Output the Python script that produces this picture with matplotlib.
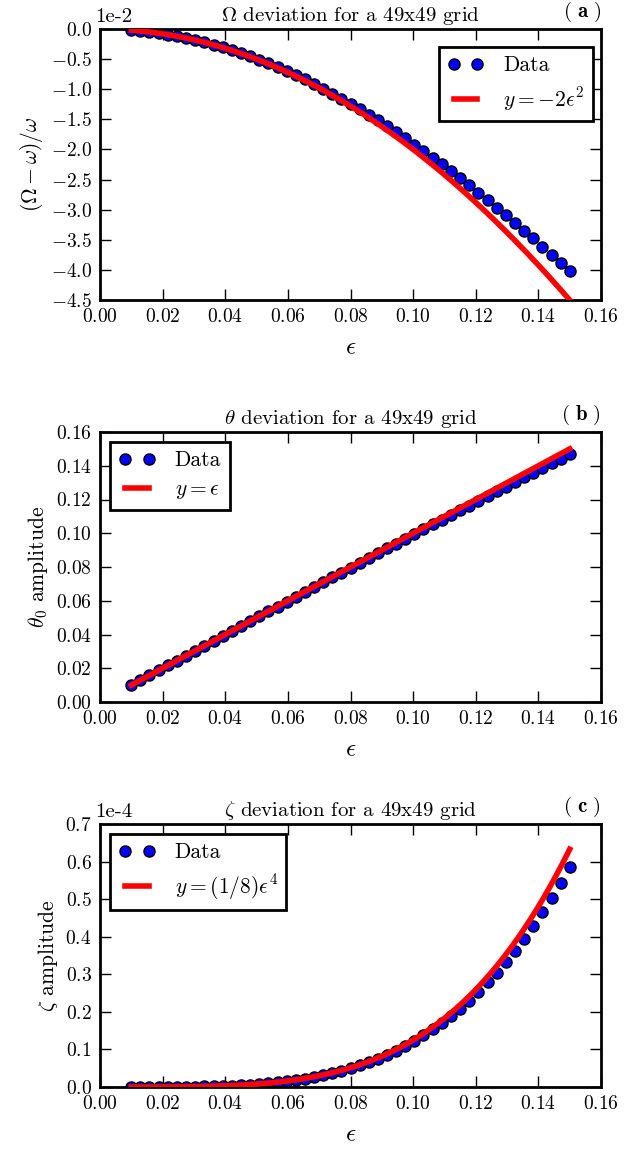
import numpy as np
import matplotlib
matplotlib.use("Agg")
import matplotlib.pyplot as plt
from matplotlib.ticker import FuncFormatter, MultipleLocator

plt.rcParams['font.family'] = ['cmr10', 'DejaVu Serif']
plt.rcParams['mathtext.fontset'] = 'cm'
plt.rcParams['axes.formatter.use_mathtext'] = True

# ---------------- data ----------------
eps = [0.0100, 0.0129, 0.0158, 0.0188, 0.0217, 0.0246, 0.0275, 0.0304, 0.0333,
       0.0363, 0.0392, 0.0421, 0.0450, 0.0479, 0.0508, 0.0538, 0.0567, 0.0596,
       0.0625, 0.0654, 0.0683, 0.0713, 0.0742, 0.0771, 0.0800, 0.0829, 0.0858,
       0.0888, 0.0917, 0.0946, 0.0975, 0.1004, 0.1033, 0.1063, 0.1092, 0.1121,
       0.1150, 0.1179, 0.1208, 0.1238, 0.1267, 0.1296, 0.1325, 0.1354, 0.1383,
       0.1413, 0.1442, 0.1471, 0.1500]

omega_dev = [-0.00020, -0.00033, -0.00050, -0.00071, -0.00094, -0.00121, -0.00151,
             -0.00184, -0.00221, -0.00262, -0.00305, -0.00352, -0.00401, -0.00454,
             -0.00510, -0.00571, -0.00633, -0.00698, -0.00767, -0.00838, -0.00912,
             -0.00992, -0.01072, -0.01155, -0.01241, -0.01330, -0.01421, -0.01518,
             -0.01615, -0.01714, -0.01815, -0.01920, -0.02026, -0.02139, -0.02250,
             -0.02363, -0.02479, -0.02596, -0.02716, -0.02842, -0.02966, -0.03091,
             -0.03219, -0.03347, -0.03478, -0.03615, -0.03748, -0.03883, -0.04019]

theta_amp = [0.00999, 0.01290, 0.01580, 0.01879, 0.02169, 0.02459, 0.02748, 0.03037,
             0.03327, 0.03626, 0.03915, 0.04203, 0.04492, 0.04780, 0.05068, 0.05366,
             0.05654, 0.05941, 0.06228, 0.06515, 0.06801, 0.07097, 0.07383, 0.07669,
             0.07954, 0.08239, 0.08523, 0.08817, 0.09101, 0.09384, 0.09667, 0.09949,
             0.10231, 0.10522, 0.10803, 0.11083, 0.11363, 0.11643, 0.11921, 0.12209,
             0.12487, 0.12764, 0.13041, 0.13317, 0.13592, 0.13876, 0.14150, 0.14424,
             0.14696]

# zeta amplitude in units of 1e-4
zeta_amp_e4 = [0.00001, 0.00003, 0.00008, 0.00016, 0.00028, 0.00046, 0.00071, 0.00106,
               0.00153, 0.00216, 0.00294, 0.00390, 0.00509, 0.00653, 0.00825, 0.01037,
               0.01278, 0.01558, 0.01882, 0.02254, 0.02677, 0.03175, 0.03718, 0.04328,
               0.05009, 0.05766, 0.06605, 0.07564, 0.08586, 0.09706, 0.10931, 0.12266,
               0.13717, 0.15347, 0.17054, 0.18897, 0.20880, 0.23012, 0.25297, 0.27832,
               0.30456, 0.33249, 0.36228, 0.39394, 0.42756, 0.46450, 0.50228, 0.54220,
               0.58440]

titles = [r'$\Omega$ deviation for a 49x49 grid',
          r'$\theta$ deviation for a 49x49 grid',
          r'$\zeta$ deviation for a 49x49 grid']
panel_tags = ['a', 'b', 'c']
ylabels = [r'$(\Omega-\omega)/\omega$', r'$\theta_0$ amplitude', r'$\zeta$ amplitude']
fit_labels = [r'$y=-2\epsilon^2$', r'$y=\epsilon$', r'$y=(1/8)\epsilon^4$']

eps_arr = np.array(eps)
zeta_amp = np.array(zeta_amp_e4) * 1e-4
eps_fine = np.linspace(eps_arr.min(), eps_arr.max(), 200)
fits = [-2 * eps_fine**2, eps_fine, eps_fine**4 / 8]
datas = [np.array(omega_dev), np.array(theta_amp), zeta_amp]

W, H = 625, 1150
fig = plt.figure(figsize=(W / 100, H / 100), dpi=100)

# axes boxes in pixels: (left, top, right, bottom)
boxes = [(100, 29, 601, 300), (100, 432, 601, 702), (100, 824, 601, 1087)]

ylims = [(-0.045, 0.0), (0.0, 0.16), (0.0, 0.7e-4)]
ysteps = [0.005, 0.02, 0.1e-4]
yfmts = [lambda v, p: r'$%.1f$' % (v * 1e2 + 0.0),
         lambda v, p: r'$%.2f$' % (v + 0.0),
         lambda v, p: r'$%.1f$' % (v * 1e4 + 0.0)]
offsets = ['1e-2', None, '1e-4']
# legend anchor corners in pixels (x, y) and loc
legend_anchor = [((593, 47), 'upper right'), ((110, 442), 'upper left'),
                 ((110, 834), 'upper left')]

for i in range(3):
    l, t, r, b = boxes[i]
    ax = fig.add_axes([l / W, 1 - b / H, (r - l) / W, (b - t) / H])
    ax.plot(eps_arr, datas[i], 'o', color='blue', markeredgecolor='black',
            markeredgewidth=1.0, markersize=8, label='Data', zorder=2)
    ax.plot(eps_fine, fits[i], '-', color='red', linewidth=4, label=fit_labels[i], zorder=3)
    ax.set_xlim(0.0, 0.16)
    ax.set_ylim(*ylims[i])
    ax.xaxis.set_major_locator(MultipleLocator(0.02))
    ax.xaxis.set_major_formatter(FuncFormatter(lambda v, p: r'$%.2f$' % (v + 0.0)))
    ax.yaxis.set_major_locator(MultipleLocator(ysteps[i]))
    ax.yaxis.set_major_formatter(FuncFormatter(yfmts[i]))
    ax.tick_params(direction='in', top=True, right=True, length=8, width=1,
                   labelsize=14, pad=6)
    for s in ax.spines.values():
        s.set_linewidth(2)
    ax.set_xlabel(r'$\epsilon$', fontsize=18, labelpad=8)
    ax.set_ylabel(ylabels[i], fontsize=15.5)
    ax.set_title(titles[i], fontsize=15, pad=6)
    ax.text(1.0, 1.02, r'$(\ \mathbf{%s}\ )$' % panel_tags[i], transform=ax.transAxes,
            ha='right', va='bottom', fontsize=15)
    if offsets[i]:
        ax.text(-0.01, 1.01, offsets[i], transform=ax.transAxes, ha='left',
                va='bottom', fontsize=15)
    (px, py), loc = legend_anchor[i]
    leg = ax.legend(loc=loc, bbox_to_anchor=(px / W, 1 - py / H),
                    bbox_transform=fig.transFigure, borderaxespad=0.0,
                    numpoints=2, fontsize=15.5, fancybox=False,
                    handlelength=1.7, handletextpad=0.9, labelspacing=0.45,
                    framealpha=1.0)
    leg.get_frame().set_edgecolor('black')
    leg.get_frame().set_linewidth(2)

fig.savefig('out.png', dpi=100)
